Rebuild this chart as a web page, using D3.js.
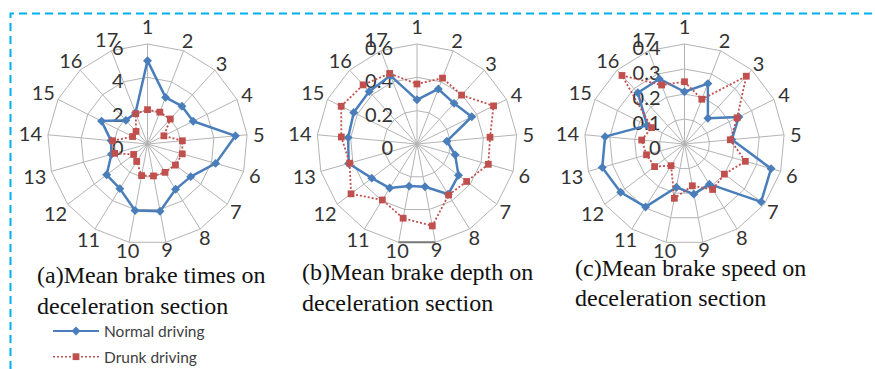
<!DOCTYPE html>
<html>
<head>
<meta charset="utf-8">
<script src="https://cdn.jsdelivr.net/npm/d3@7"></script>
<style>
  body { margin: 0; background: #fff; }
  svg { display: block; }
  .cat, .tick { font-family: Lato, "Noto Sans", sans-serif; font-size: 20px; fill: #333; }
  .caption { font-family: "Liberation Serif", "Times New Roman", serif; font-size: 24px; fill: #111; }
  .legend text { font-family: Lato, sans-serif; font-size: 15.5px; fill: #404040; }
</style>
</head>
<body>
<svg id="chart" width="875" height="369"></svg>
<script>
const categories = ['1', '2', '3', '4', '5', '6', '7', '8', '9', '10', '11', '12', '13', '14', '15', '16', '17'];

// (a) mean brake times
const timesNormal = [5.0, 3.0, 3.07, 3.06, 5.3, 4.25, 3.25, 3.2, 4.1, 4.06, 3.15, 3.07, 2.25, 2.2, 3.08, 1.92, 2.0];
const timesDrunk = [2.06, 2.05, 2.03, 1.1, 2.1, 2.17, 2.1, 2.0, 1.95, 1.93, 1.23, 1.04, 2.05, 2.1, 1.0, 1.02, 1.95];
const timesTicks = [0, 2, 4, 6];

// (b) mean brake depth
const depthNormal = [0.265, 0.354, 0.33, 0.367, 0.18, 0.238, 0.312, 0.355, 0.261, 0.257, 0.311, 0.34, 0.426, 0.415, 0.424, 0.426, 0.44];
const depthDrunk = [0.36, 0.424, 0.397, 0.513, 0.44, 0.445, 0.373, 0.36, 0.5, 0.453, 0.395, 0.496, 0.42, 0.456, 0.508, 0.48, 0.454];
const depthTicks = [0, 0.2, 0.4, 0.6];

// (c) mean brake speed
const speedNormal = [0.209, 0.259, 0.139, 0.243, 0.19, 0.36, 0.384, 0.189, 0.204, 0.176, 0.296, 0.32, 0.342, 0.319, 0.167, 0.277, 0.279];
const speedDrunk = [0.249, 0.192, 0.367, 0.235, 0.184, 0.253, 0.2, 0.214, 0.17, 0.221, 0.102, 0.15, 0.158, 0.172, 0.147, 0.371, 0.253];
const speedTicks = [0, 0.1, 0.2, 0.3, 0.4];

const captions = [
  ['(a)Mean brake times on', 'deceleration section'],
  ['(b)Mean brake depth on', 'deceleration section'],
  ['(c)Mean brake speed on', 'deceleration section']
];
const seriesNames = ['Normal driving', 'Drunk driving'];

const blue = '#4a7ebb', red = '#c0504d', grid = '#b4b4b4';
const R = 100;

const svg = d3.select('#chart');

// dashed frame round the figure
svg.append('path')
  .attr('d', 'M10.5,369V13.5H875')
  .attr('fill', 'none')
  .attr('stroke', '#00b0f0')
  .attr('stroke-width', 2)
  .attr('stroke-dasharray', '8,5');

const panels = [
  { cx: 147.5, cy: 144, normal: timesNormal, drunk: timesDrunk, ticks: timesTicks, capX: 37, capY: 283 },
  { cx: 417, cy: 144, normal: depthNormal, drunk: depthDrunk, ticks: depthTicks, capX: 302, capY: 280, darkEdge: true },
  { cx: 684.5, cy: 144, normal: speedNormal, drunk: speedDrunk, ticks: speedTicks, capX: 575, capY: 275.5 }
];

const angle = d3.scaleLinear().domain([0, categories.length]).range([0, 2 * Math.PI]);

const diamond = d3.symbol(d3.symbolSquare, 40)();
const square = d3.symbol(d3.symbolSquare, 46)();

panels.forEach((p, k) => {
  const r = d3.scaleLinear().domain([0, d3.max(p.ticks)]).range([0, R]);
  const g = svg.append('g').attr('transform', `translate(${p.cx},${p.cy})`);

  const ring = d3.lineRadial()
    .angle((d, i) => angle(i))
    .radius(d => d)
    .curve(d3.curveLinearClosed);

  // rings
  g.selectAll('.ring')
    .data(p.ticks.filter(t => t > 0))
    .enter().append('path')
    .attr('class', 'ring')
    .attr('d', t => ring(categories.map(() => r(t))))
    .attr('fill', 'none')
    .attr('stroke', grid)
    .attr('stroke-width', 1);

  // spokes
  g.selectAll('.spoke')
    .data(categories)
    .enter().append('line')
    .attr('x2', (d, i) => R * Math.sin(angle(i)))
    .attr('y2', (d, i) => -R * Math.cos(angle(i)))
    .attr('stroke', grid)
    .attr('stroke-width', 1);

  if (p.darkEdge) {
    // the outer edge between 9 and 10 is drawn darker in the source
    g.append('line')
      .attr('x1', R * Math.sin(angle(8))).attr('y1', -R * Math.cos(angle(8)))
      .attr('x2', R * Math.sin(angle(9))).attr('y2', -R * Math.cos(angle(9)))
      .attr('stroke', '#7a7a7a').attr('stroke-width', 2);
  }

  // value labels along the first spoke
  g.selectAll('.tick')
    .data(p.ticks)
    .enter().append('text')
    .attr('class', 'tick')
    .attr('x', -24)
    .attr('y', t => -r(t) + 3)
    .attr('text-anchor', 'end')
    .attr('dominant-baseline', 'central')
    .text(t => String(t));

  // category labels
  g.selectAll('.cat')
    .data(categories)
    .enter().append('text')
    .attr('class', 'cat')
    .attr('text-anchor', 'middle')
    .attr('dominant-baseline', 'central')
    .text(d => d)
    .each(function (d, i) {
      const a = angle(i), s = Math.sin(a), c = Math.cos(a);
      const hw = this.getComputedTextLength() / 2;
      const rl = R + 6 + hw * Math.abs(s) + 12 * Math.pow(Math.max(0, c), 20);
      d3.select(this).attr('x', rl * s).attr('y', -rl * c);
    });

  const line = d3.lineRadial()
    .angle((d, i) => angle(i))
    .radius(d => r(d))
    .curve(d3.curveLinearClosed);

  // normal driving
  g.append('path')
    .attr('d', line(p.normal))
    .attr('fill', 'none')
    .attr('stroke', blue)
    .attr('stroke-width', 2.5)
    .attr('stroke-linejoin', 'round');
  g.selectAll('.nm')
    .data(p.normal)
    .enter().append('path')
    .attr('d', diamond)
    .attr('fill', blue)
    .attr('transform', (d, i) => `translate(${r(d) * Math.sin(angle(i))},${-r(d) * Math.cos(angle(i))}) rotate(45)`);

  // drunk driving
  g.append('path')
    .attr('d', line(p.drunk))
    .attr('fill', 'none')
    .attr('stroke', red)
    .attr('stroke-width', 1.8)
    .attr('stroke-dasharray', '2,2');
  g.selectAll('.dm')
    .data(p.drunk)
    .enter().append('path')
    .attr('d', square)
    .attr('fill', red)
    .attr('transform', (d, i) => `translate(${r(d) * Math.sin(angle(i))},${-r(d) * Math.cos(angle(i))})`);

  // caption
  svg.append('text')
    .attr('class', 'caption')
    .selectAll('tspan')
    .data(captions[k])
    .enter().append('tspan')
    .attr('x', p.capX)
    .attr('y', (d, j) => p.capY + j * 30.5)
    .text(d => d);
});

// legend
const lg = svg.append('g').attr('class', 'legend').attr('transform', 'translate(53,331)');
const rows = lg.selectAll('g')
  .data(seriesNames)
  .enter().append('g')
  .attr('transform', (d, i) => `translate(0,${i * 25.7})`);
rows.append('line')
  .attr('x2', 46)
  .attr('stroke', (d, i) => i ? red : blue)
  .attr('stroke-width', (d, i) => i ? 1.6 : 2)
  .attr('stroke-dasharray', (d, i) => i ? '2,2' : null);
rows.append('path')
  .attr('d', (d, i) => i ? square : diamond)
  .attr('fill', (d, i) => i ? red : blue)
  .attr('transform', (d, i) => `translate(23,0)${i ? '' : ' rotate(45)'}`);
rows.append('text')
  .attr('x', 51)
  .attr('dominant-baseline', 'central')
  .text(d => d);
</script>
</body>
</html>
